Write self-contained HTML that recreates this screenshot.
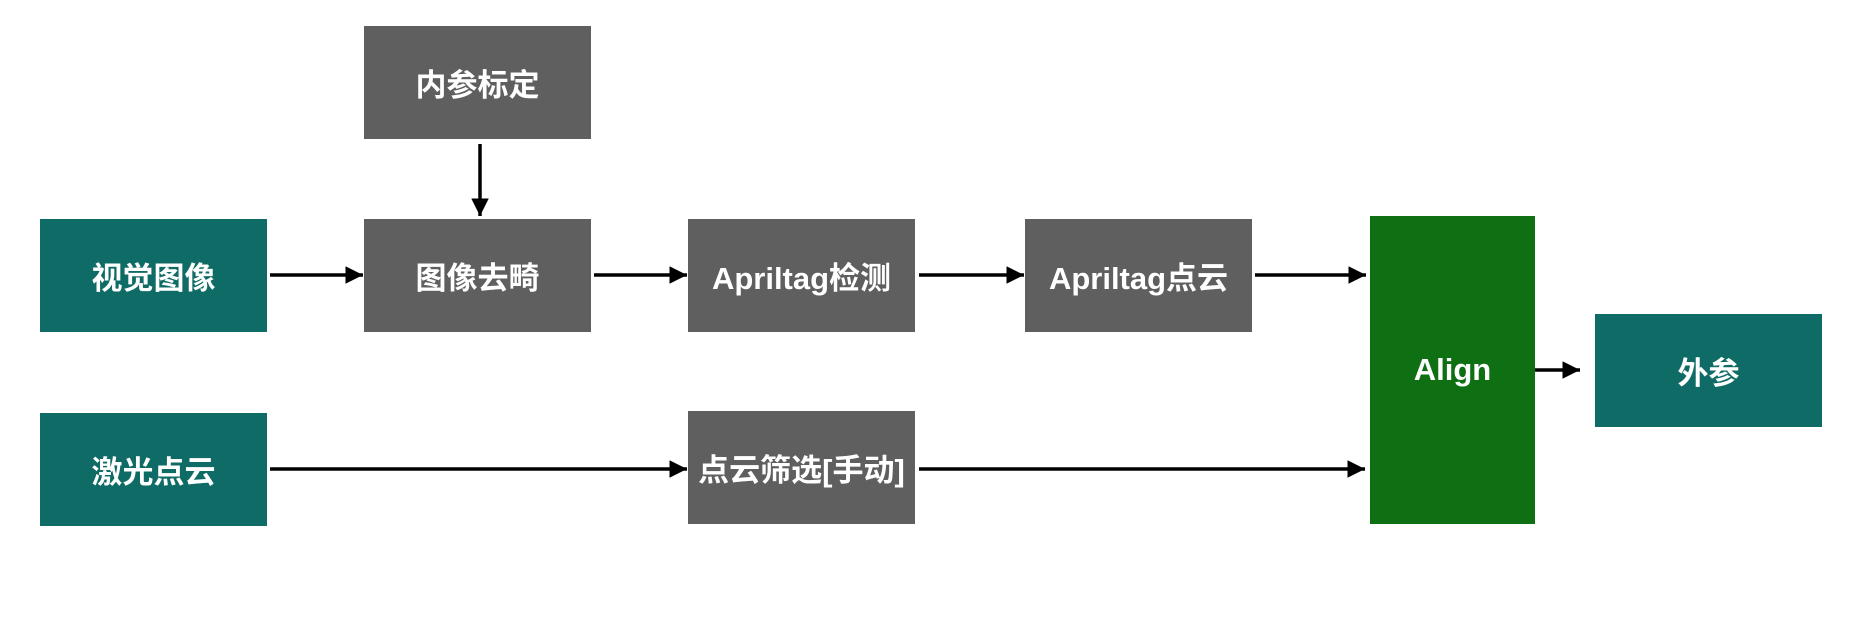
<!DOCTYPE html>
<html><head><meta charset="utf-8"><style>
body{margin:0;width:1860px;height:624px;background:#fff;position:relative;overflow:hidden;font-family:"Liberation Sans","Noto Sans CJK SC",sans-serif;}
.b{position:absolute;display:flex;align-items:center;justify-content:center;color:#fff;font-weight:bold;font-size:31px;white-space:nowrap;}
.g{background:#5f5f5f}.t{background:#0e6b65}.a{background:#0e7012}
svg{position:absolute;left:0;top:0}
</style></head><body>
<div class="b g" style="left:364px;top:26px;width:227px;height:113px">内参标定</div>
<div class="b t" style="left:40px;top:219px;width:227px;height:113px">视觉图像</div>
<div class="b g" style="left:364px;top:219px;width:227px;height:113px">图像去畸</div>
<div class="b g" style="left:688px;top:219px;width:227px;height:113px">Apriltag检测</div>
<div class="b g" style="left:1025px;top:219px;width:227px;height:113px">Apriltag点云</div>
<div class="b a" style="left:1370px;top:216px;width:165px;height:308px">Align</div>
<div class="b t" style="left:1595px;top:314px;width:227px;height:113px">外参</div>
<div class="b t" style="left:40px;top:413px;width:227px;height:113px">激光点云</div>
<div class="b g" style="left:688px;top:411px;width:227px;height:113px">点云筛选[手动]</div>
<svg width="1860" height="624">
<defs><marker id="m" markerWidth="5" markerHeight="5" refX="5" refY="2.5" orient="auto" markerUnits="strokeWidth"><path d="M0,0L5,2.5L0,5z" fill="#000"/></marker></defs>
<g stroke="#000" stroke-width="3.5" marker-end="url(#m)">
<line x1="480" y1="144" x2="480" y2="216"/>
<line x1="270" y1="275" x2="363" y2="275"/>
<line x1="594" y1="275" x2="687" y2="275"/>
<line x1="919" y1="275" x2="1024" y2="275"/>
<line x1="1255" y1="275" x2="1366" y2="275"/>
<line x1="270" y1="469" x2="687" y2="469"/>
<line x1="919" y1="469" x2="1365" y2="469"/>
<line x1="1535" y1="370" x2="1580" y2="370"/>
</g></svg>
</body></html>
